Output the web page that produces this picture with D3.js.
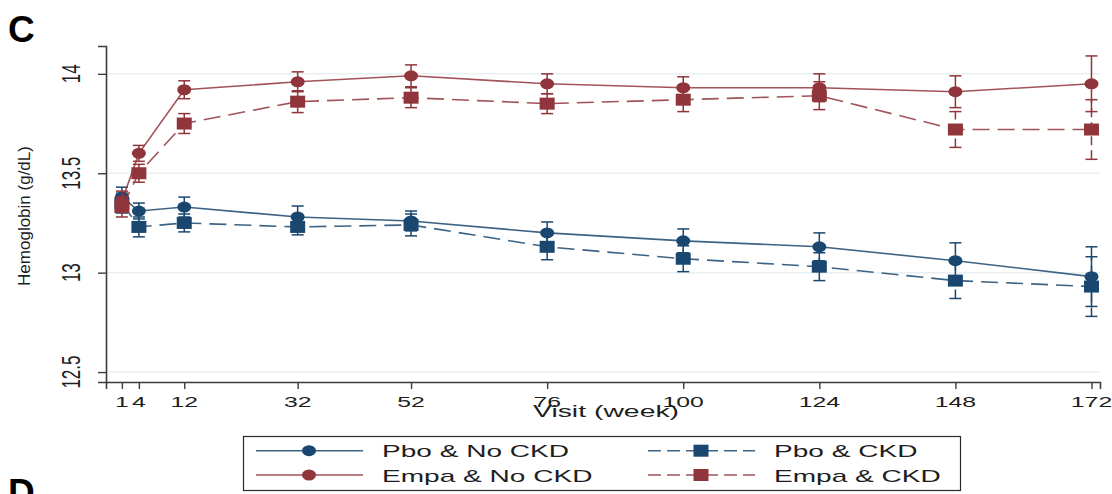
<!DOCTYPE html>
<html>
<head>
<meta charset="utf-8">
<script src="https://cdn.jsdelivr.net/npm/d3@7"></script>
<style>
  body { margin: 0; background: #fff; }
  svg { display: block; font-family: "Liberation Sans", Arial, sans-serif; }
</style>
</head>
<body>
<div id="chart"></div>
<script>
// visit weeks and axis ticks
const weeks = [1, 4, 12, 32, 52, 76, 100, 124, 148, 172];
const xTickLabels = ["1", "4", "12", "32", "52", "76", "100", "124", "148", "172"];
const yTicks = [12.5, 13, 13.5, 14];
const yTickLabels = ["12.5", "13", "13.5", "14"];

// mean hemoglobin (g/dL) and half-width of the CI
const pboNoCkd    = [13.38, 13.31, 13.33, 13.28, 13.26, 13.20, 13.16, 13.13, 13.06, 12.98];
const pboNoCkdErr = [0.05, 0.04, 0.05, 0.055, 0.05, 0.055, 0.06, 0.07, 0.09, 0.15];
const pboCkd      = [13.35, 13.23, 13.25, 13.23, 13.24, 13.13, 13.07, 13.03, 12.96, 12.93];
const pboCkdErr   = [0.05, 0.05, 0.045, 0.04, 0.055, 0.065, 0.065, 0.07, 0.09, 0.15];
const empaNoCkd    = [13.36, 13.60, 13.92, 13.96, 13.99, 13.95, 13.93, 13.93, 13.91, 13.95];
const empaNoCkdErr = [0.05, 0.04, 0.045, 0.05, 0.055, 0.05, 0.055, 0.07, 0.08, 0.14];
const empaCkd      = [13.33, 13.50, 13.75, 13.86, 13.88, 13.85, 13.87, 13.89, 13.72, 13.72];
const empaCkdErr   = [0.05, 0.045, 0.05, 0.055, 0.05, 0.05, 0.06, 0.07, 0.09, 0.15];

const seriesNames = ["Pbo & No CKD", "Pbo & CKD", "Empa & No CKD", "Empa & CKD"];

var navy = "#1a476f", maroon = "#90353b";

var series = [
    {name: seriesNames[0], vals: pboNoCkd, err: pboNoCkdErr, color: navy, dashed: false, shape: "circle"},
    {name: seriesNames[1], vals: pboCkd, err: pboCkdErr, color: navy, dashed: true, shape: "square"},
    {name: seriesNames[2], vals: empaNoCkd, err: empaNoCkdErr, color: maroon, dashed: false, shape: "circle"},
    {name: seriesNames[3], vals: empaCkd, err: empaCkdErr, color: maroon, dashed: true, shape: "square"}
];

var width = 1112, height = 494;
var textColor = "#1e1e1e";

var svg = d3.select("#chart")
    .append("svg")
    .attr("width", width)
    .attr("height", height);

var x = d3.scaleLinear().domain([-1.8, 173.5]).range([106, 1100]);
var y = d3.scaleLinear().domain([12.45, 14.14]).range([382, 46]);

// text that is stretched sideways, like the source image
function addText(g, px, py, txt, size, sx, anchor, rotate, weight){
    var t = g.append("text")
        .attr("transform", "translate(" + px + "," + py + ") scale(" + sx + ",1)" + (rotate ? " rotate(-90)" : ""))
        .attr("text-anchor", anchor)
        .attr("font-size", size)
        .attr("fill", textColor)
        .text(txt);
    if (weight) t.attr("font-weight", weight);
    return t;
}

// gridlines
svg.append("g")
    .selectAll("line")
    .data(yTicks)
    .enter()
    .append("line")
    .attr("x1", x.range()[0])
    .attr("x2", x.range()[1])
    .attr("y1", d => y(d))
    .attr("y2", d => y(d))
    .attr("stroke", "#e8f0f2")
    .attr("stroke-width", 1.5);

// axes
var yAxis = svg.append("g")
    .attr("transform", "translate(" + x.range()[0] + ",0)")
    .call(d3.axisLeft(y).tickValues(yTicks).tickSize(8).tickFormat(""));
var xAxis = svg.append("g")
    .attr("transform", "translate(0," + y.range()[0] + ")")
    .call(d3.axisBottom(x).tickValues(weeks).tickSize(7).tickFormat(""));
[yAxis, xAxis].forEach(function(a){
    a.select(".domain").attr("stroke", "#3c3c3c").attr("stroke-width", 1.6);
    a.selectAll(".tick line").attr("stroke", "#3c3c3c").attr("stroke-width", 1.4);
});

// tick labels
var labels = svg.append("g");
weeks.forEach(function(w, i){
    addText(labels, x(w), 406.5, xTickLabels[i], 15.5, 1.6, "middle", false);
});
yTicks.forEach(function(v, i){
    addText(labels, 80, y(v), yTickLabels[i], 17, 1.5, "middle", true);
});

// axis titles and panel letters
addText(svg, 30, 216, "Hemoglobin (g/dL)", 17, 1.0, "middle", true);
addText(svg, 606, 416.5, "Visit (week)", 16.5, 1.72, "middle", false);
addText(svg, 8, 41.5, "C", 37, 1.0, "start", false, "bold").attr("fill", "#000");
addText(svg, 8, 504.5, "D", 37, 1.0, "start", false, "bold").attr("fill", "#000");

function drawMarker(g, shape, cx, cy, color){
    if (shape === "circle") {
        g.append("ellipse")
            .attr("cx", cx).attr("cy", cy)
            .attr("rx", 7).attr("ry", 5.5)
            .attr("fill", color);
    } else {
        g.append("rect")
            .attr("x", cx - 7.5).attr("y", cy - 6)
            .attr("width", 15).attr("height", 12)
            .attr("fill", color);
    }
}

var line = d3.line()
    .x(d => x(d[0]))
    .y(d => y(d[1]));

series.forEach(function(s){
    var g = svg.append("g").attr("class", "series");
    var pts = weeks.map((w, i) => [w, s.vals[i], s.err[i]]);

    // confidence bars with caps
    var bars = g.selectAll(".bar")
        .data(pts)
        .enter()
        .append("g")
        .attr("class", "bar")
        .attr("stroke", s.color)
        .attr("stroke-width", 1.5);
    bars.append("line")
        .attr("x1", d => x(d[0])).attr("x2", d => x(d[0]))
        .attr("y1", d => y(d[1] - d[2])).attr("y2", d => y(d[1] + d[2]))
        .attr("stroke-dasharray", s.dashed ? "9,5" : null);
    bars.append("line")
        .attr("x1", d => x(d[0]) - 6).attr("x2", d => x(d[0]) + 6)
        .attr("y1", d => y(d[1] - d[2])).attr("y2", d => y(d[1] - d[2]));
    bars.append("line")
        .attr("x1", d => x(d[0]) - 6).attr("x2", d => x(d[0]) + 6)
        .attr("y1", d => y(d[1] + d[2])).attr("y2", d => y(d[1] + d[2]));

    g.append("path")
        .datum(pts)
        .attr("d", line)
        .attr("fill", "none")
        .attr("stroke", s.color)
        .attr("stroke-opacity", 0.85)
        .attr("stroke-width", 1.6)
        .attr("stroke-dasharray", s.dashed ? "17,8" : null);

    pts.forEach(function(d){
        drawMarker(g, s.shape, x(d[0]), y(d[1]), s.color);
    });
});

// legend
var legend = svg.append("g");
legend.append("rect")
    .attr("x", 243.5).attr("y", 436.5)
    .attr("width", 717).attr("height", 54)
    .attr("fill", "#fff")
    .attr("stroke", "#2a2a2a")
    .attr("stroke-width", 1.2);

var keyPos = [
    {lx: 256, rowY: 450.7},
    {lx: 648, rowY: 450.7},
    {lx: 256, rowY: 475},
    {lx: 648, rowY: 475}
];
series.forEach(function(s, i){
    var p = keyPos[i];
    legend.append("line")
        .attr("x1", p.lx).attr("x2", p.lx + 107)
        .attr("y1", p.rowY).attr("y2", p.rowY)
        .attr("stroke", s.color)
        .attr("stroke-opacity", 0.85)
        .attr("stroke-width", 1.5)
        .attr("stroke-dasharray", s.dashed ? "13,6" : null);
    drawMarker(legend, s.shape, p.lx + 53, p.rowY, s.color);
    addText(legend, p.lx + 126, p.rowY + 6.5, s.name, 17, 1.65, "start", false);
});
</script>
</body>
</html>
